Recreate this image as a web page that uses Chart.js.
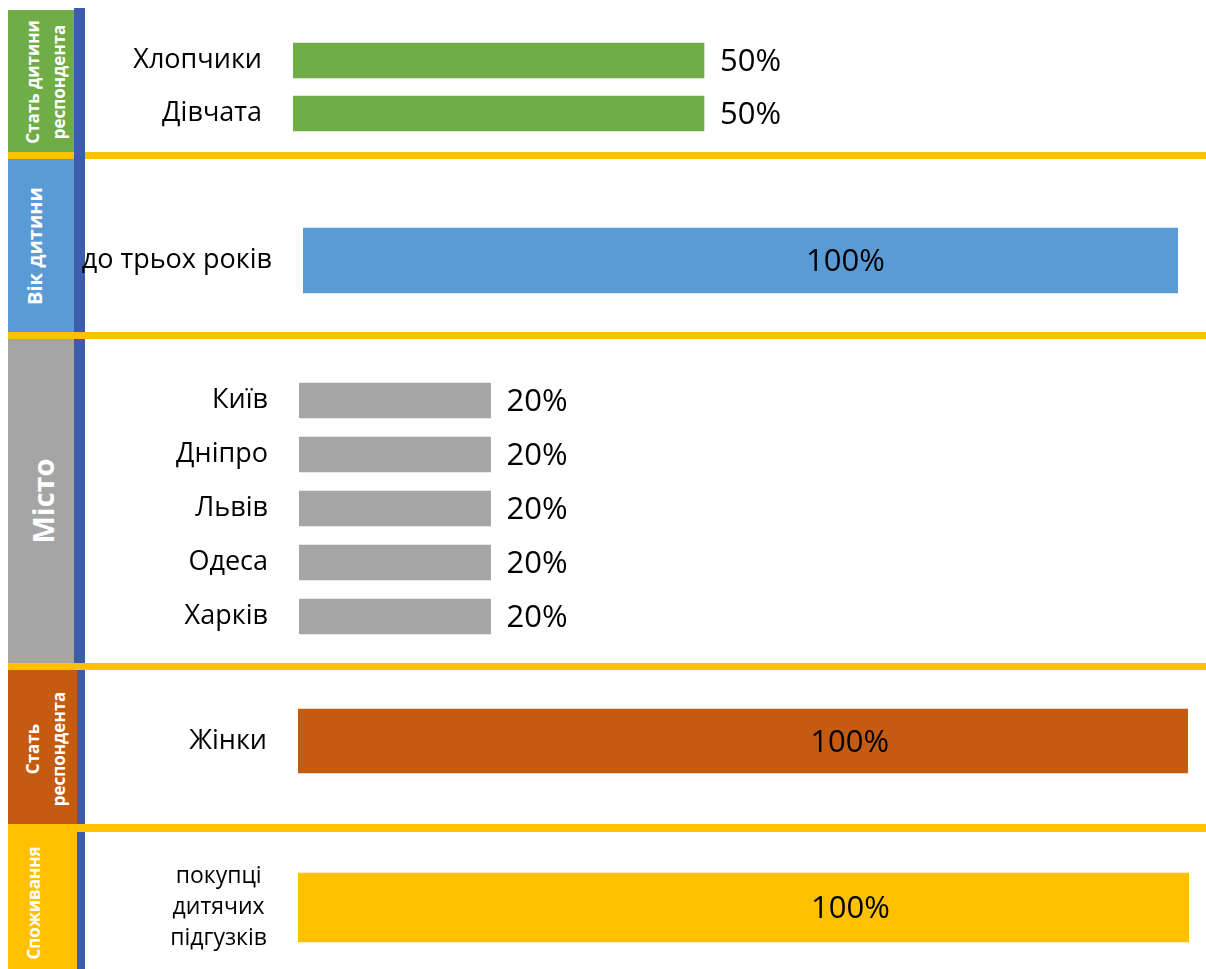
<!DOCTYPE html>
<html>
<head>
<meta charset="utf-8">
<title>Профіль респондентів</title>
<script src="https://cdn.jsdelivr.net/npm/chart.js@4.4.1/dist/chart.umd.min.js"></script>
<style>
  html, body { margin: 0; padding: 0; background: #ffffff; }
  #page { position: relative; width: 1206px; height: 969px; overflow: hidden; font-family: "Open Sans", sans-serif; }
  .block { position: absolute; }
  .side {
    position: absolute; color: #ffffff; font-weight: 700; white-space: nowrap;
    text-align: center; transform: translate(-50%, -50%) rotate(-90deg);
  }
  canvas { position: absolute; left: 0; }
</style>
</head>
<body>
<div id="page">
  <!-- dividers and section tabs -->
  <div class="block" style="left:8px;top:152px;width:1198px;height:7px;background:#FFC000"></div>
  <div class="block" style="left:74px;top:8px;width:11px;height:961px;background:#3C5CAC"></div>
  <div class="block" style="left:8px;top:332px;width:1198px;height:7px;background:#FFC000"></div>
  <div class="block" style="left:8px;top:663px;width:1198px;height:7px;background:#FFC000"></div>
  <div class="block" style="left:8px;top:824px;width:1198px;height:8px;background:#FFC000"></div>

  <div class="block" style="left:8px;top:10px;width:66px;height:142px;background:#70AD47"></div>
  <div class="block" style="left:8px;top:159px;width:66px;height:173px;background:#5B9BD5"></div>
  <div class="block" style="left:8px;top:339px;width:66px;height:324px;background:#A5A5A5"></div>
  <div class="block" style="left:8px;top:670px;width:69px;height:154px;background:#C55A11"></div>
  <div class="block" style="left:8px;top:832px;width:69px;height:137px;background:#FFC000"></div>

  <div class="side" style="left:46px;top:82px;font-size:17px;line-height:26px">Стать дитини<br>респондента</div>
  <div class="side" style="left:35px;top:246px;font-size:20px;line-height:26px">Вік дитини</div>
  <div class="side" style="left:43px;top:501px;font-size:29px;line-height:34px">Місто</div>
  <div class="side" style="left:46px;top:749px;font-size:17px;line-height:26px">Стать<br>респондента</div>
  <div class="side" style="left:34px;top:903px;font-size:17px;line-height:26px">Споживання</div>

  <canvas id="c1" width="1206" height="144" style="top:8px"></canvas>
  <canvas id="c2" width="1206" height="173" style="top:159px"></canvas>
  <canvas id="c3" width="1206" height="324" style="top:339px"></canvas>
  <canvas id="c4" width="1206" height="154" style="top:670px"></canvas>
  <canvas id="c5" width="1206" height="138" style="top:831px"></canvas>
</div>

<script>
// Values (percent of respondents) per section
const childGenderLabels = ['Хлопчики', 'Дівчата'];
const childGenderValues = [50, 50];

const childAgeLabels = ['до трьох років'];
const childAgeValues = [100];

const cityLabels = ['Київ', 'Дніпро', 'Львів', 'Одеса', 'Харків'];
const cityValues = [20, 20, 20, 20, 20];

const respondentGenderLabels = ['Жінки'];
const respondentGenderValues = [100];

const consumptionLabels = [['покупці', 'дитячих', 'підгузків']];
const consumptionValues = [100];

// Writes "NN%" next to or inside each bar
const valueLabels = {
  id: 'valueLabels',
  afterDatasetsDraw(chart, args, opts) {
    const ctx = chart.ctx;
    const meta = chart.getDatasetMeta(0);
    const data = chart.data.datasets[0].data;
    ctx.save();
    ctx.font = opts.size + 'px "Open Sans", sans-serif';
    ctx.fillStyle = '#000000';
    ctx.textBaseline = 'middle';
    meta.data.forEach((bar, i) => {
      const txt = data[i] + '%';
      if (opts.pos === 'end') {
        ctx.textAlign = 'left';
        ctx.fillText(txt, bar.x + opts.gap, bar.y + 2);
      } else {
        ctx.textAlign = 'center';
        ctx.fillText(txt, bar.base + (bar.x - bar.base) * opts.frac, bar.y + 2);
      }
    });
    ctx.restore();
  }
};

function drawPanel(id, labels, values, style) {
  new Chart(document.getElementById(id), {
    type: 'bar',
    data: {
      labels: labels,
      datasets: [{
        data: values,
        backgroundColor: style.color,
        borderWidth: 0,
        barThickness: style.thickness
      }]
    },
    options: {
      indexAxis: 'y',
      responsive: false,
      animation: false,
      events: [],
      layout: { padding: { top: style.padTop, bottom: style.padBottom, left: 0, right: 1206 - style.right } },
      plugins: {
        legend: { display: false },
        tooltip: { enabled: false },
        valueLabels: { pos: style.labelPos, gap: 16, frac: 0.62, size: 31 }
      },
      scales: {
        x: { display: false, min: 0, max: style.max },
        y: {
          position: 'left',
          grid: { display: false, drawTicks: false },
          border: { display: false },
          ticks: {
            color: '#000000',
            padding: 31,
            crossAlign: style.crossAlign || 'near',
            font: { family: '"Open Sans", sans-serif', size: style.tickSize, lineHeight: style.tickLineHeight || 1.2 }
          },
          afterFit(scale) {
            scale.width = style.left;
            // the category rows fill the whole plot height
            scale.paddingTop = 0;
            scale.paddingBottom = 0;
          }
        }
      }
    },
    plugins: [valueLabels]
  });
}

drawPanel('c1', childGenderLabels, childGenderValues,
  { color: '#70AD47', left: 293, right: 1115, max: 100, padTop: 26, padBottom: 12, thickness: 35, labelPos: 'end', tickSize: 27 });
drawPanel('c2', childAgeLabels, childAgeValues,
  { color: '#5B9BD5', left: 303, right: 1178, max: 100, padTop: 56, padBottom: 26, thickness: 65, labelPos: 'inside', tickSize: 27 });
drawPanel('c3', cityLabels, cityValues,
  { color: '#A5A5A5', left: 299, right: 1190, max: 93, padTop: 34.5, padBottom: 19.5, thickness: 35, labelPos: 'end', tickSize: 27 });
drawPanel('c4', respondentGenderLabels, respondentGenderValues,
  { color: '#C55A11', left: 298, right: 1188, max: 100, padTop: 30, padBottom: 42, thickness: 64, labelPos: 'inside', tickSize: 27 });
drawPanel('c5', consumptionLabels, consumptionValues,
  { color: '#FFC000', left: 298, right: 1189, max: 100, padTop: 39, padBottom: 24, thickness: 69, labelPos: 'inside', tickSize: 23, tickLineHeight: 1.33, crossAlign: 'center' });
</script>
</body>
</html>
